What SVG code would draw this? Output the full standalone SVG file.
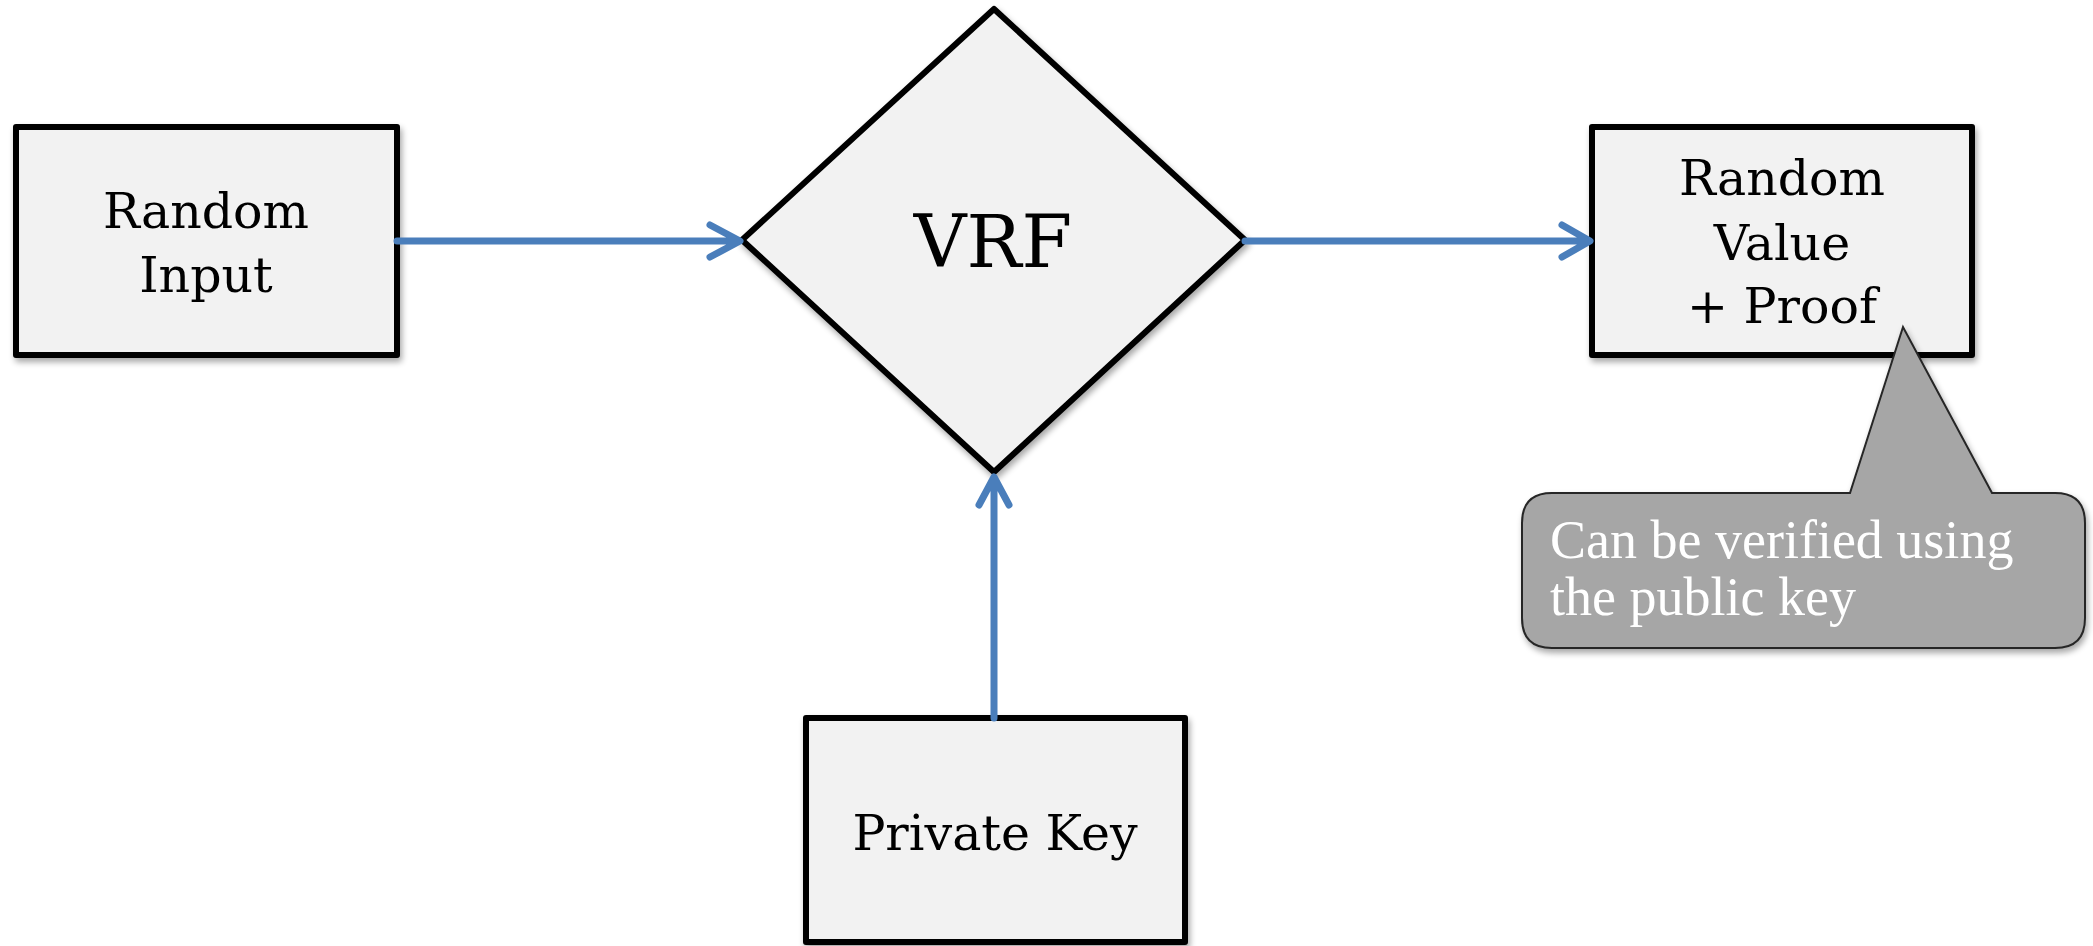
<svg xmlns="http://www.w3.org/2000/svg" width="2093" height="946" viewBox="0 0 2093 946">
<defs>
<filter id="sh" x="-10%" y="-10%" width="130%" height="130%">
<feGaussianBlur in="SourceAlpha" stdDeviation="3"/>
<feOffset dx="2" dy="4" result="b"/>
<feComponentTransfer><feFuncA type="linear" slope="0.35"/></feComponentTransfer>
<feMerge><feMergeNode/><feMergeNode in="SourceGraphic"/></feMerge>
</filter>
</defs>
<style>
.box{fill:#f2f2f2;stroke:#000;stroke-width:6;stroke-linejoin:round;}
.lbl{font-family:"DejaVu Serif",serif;font-size:49px;fill:#000;text-anchor:middle;}
.conn{fill:none;stroke:#4a7ebb;stroke-width:7;stroke-linecap:round;stroke-linejoin:round;}
.call{fill:#a6a6a6;stroke:#262626;stroke-width:2;}
.ct{font-family:"Liberation Serif",serif;font-size:54px;fill:#fff;}
</style>
<rect width="2093" height="946" fill="#fff"/>
<g id="random-input" filter="url(#sh)">
<rect class="box" x="16" y="127" width="381" height="228"/>
<text class="lbl" x="206" y="228">Random</text>
<text class="lbl" x="206" y="292">Input</text>
</g>
<g id="vrf" filter="url(#sh)">
<polygon class="box" points="994,9 1245,240 994,472 742,240" stroke-linejoin="miter"/>
<text class="lbl" x="993" y="267" style="font-size:73px">VRF</text>
</g>
<g id="random-value" filter="url(#sh)">
<rect class="box" x="1592" y="127" width="380" height="228"/>
<text class="lbl" x="1782" y="195">Random</text>
<text class="lbl" x="1782" y="260">Value</text>
<text class="lbl" x="1782" y="323">+ Proof</text>
</g>
<g id="private-key" filter="url(#sh)">
<rect class="box" x="806" y="718" width="379" height="224"/>
<text class="lbl" x="995" y="850">Private Key</text>
</g>
<g id="connectors">
<path class="conn" d="M397,241 H738 M710,225 L740,241 L710,257"/>
<path class="conn" d="M1245,241 H1588 M1562,225 L1590,241 L1562,257"/>
<path class="conn" d="M994,718 V478 M979,505 L994,477 L1009,505"/>
</g>
<g id="callout" filter="url(#sh)">
<path class="call" d="M1552,493 H1850 L1903,327 L1992,493 H2055 Q2085,493 2085,523 V618 Q2085,648 2055,648 H1552 Q1522,648 1522,618 V523 Q1522,493 1552,493 Z"/>
<text class="ct" x="1550" y="558">Can be verified using</text>
<text class="ct" x="1550" y="615">the public key</text>
</g>
</svg>
